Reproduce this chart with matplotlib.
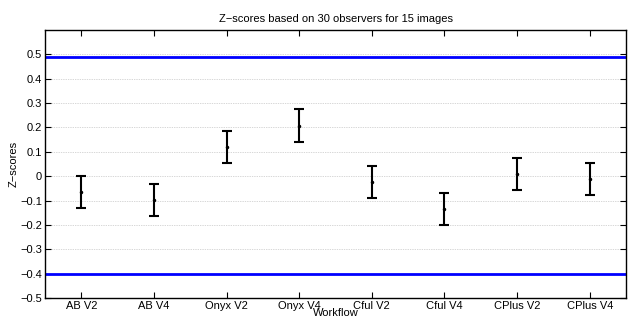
import numpy as np
import matplotlib
matplotlib.use("Agg")
import matplotlib.pyplot as plt

plt.rcParams['font.family'] = ['Liberation Sans', 'DejaVu Sans']

workflows = ['AB V2', 'AB V4', 'Onyx V2', 'Onyx V4', 'Cful V2', 'Cful V4', 'CPlus V2', 'CPlus V4']
zmean = [-0.066, -0.096, 0.120, 0.208, -0.025, -0.134, 0.008, -0.012]
zerr = [0.066, 0.066, 0.066, 0.066, 0.066, 0.066, 0.066, 0.066]
upper_limit = 0.49
lower_limit = -0.40
yticks = [-0.5, -0.4, -0.3, -0.2, -0.1, 0, 0.1, 0.2, 0.3, 0.4, 0.5]
ytick_labels = ['\u22120.5', '\u22120.4', '\u22120.3', '\u22120.2', '\u22120.1', '0',
                '0.1', '0.2', '0.3', '0.4', '0.5']

fig = plt.figure(figsize=(6.3, 3.23), dpi=100)
ax = fig.add_axes([0.0714, 0.0774, 0.9223, 0.8296])

x = np.arange(1, len(workflows) + 1)
ax.axhline(upper_limit, color='#0000ff', lw=2, zorder=2)
ax.axhline(lower_limit, color='#0000ff', lw=2, zorder=2)
ax.errorbar(x, zmean, yerr=zerr, fmt='.', color='black', ms=3,
            elinewidth=1.5, capsize=3.5, capthick=1.5, zorder=3)

ax.set_xlim(0.5, 8.5)
ax.set_ylim(-0.5, 0.6)
ax.set_xticks(x)
ax.set_xticklabels(workflows)
ax.set_yticks(yticks)
ax.set_yticklabels(ytick_labels)
ax.yaxis.grid(True, linestyle=(0, (1, 1.5)), color='#b0b0b0', lw=0.5)
ax.tick_params(direction='in', top=True, right=True, labelsize=8, length=4, width=0.8, pad=2)
for s in ax.spines.values():
    s.set_linewidth(1)

ax.set_title('Z\u2212scores based on 30 observers for 15 images', fontsize=8, pad=6)
ax.set_xlabel('Workflow', fontsize=8, labelpad=-2)
ax.set_ylabel('Z\u2212scores', fontsize=8, labelpad=1)

fig.savefig('out.png', dpi=100)
